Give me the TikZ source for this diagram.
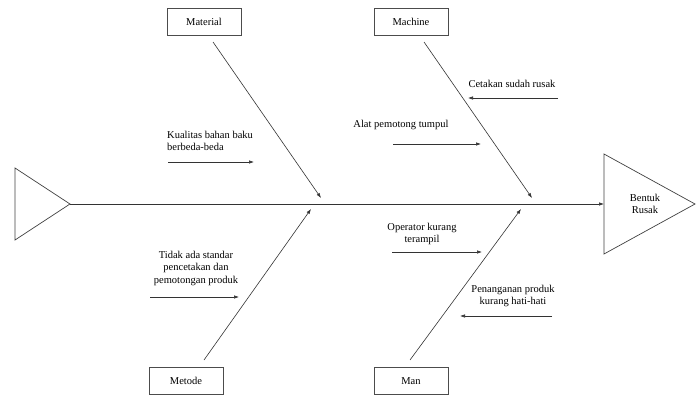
\documentclass[tikz,border=0pt]{standalone}
\usepackage{fontspec}
\setmainfont{Liberation Serif}
\usetikzlibrary{arrows.meta}

\tikzset{
  catbox/.style={draw=black!70, line width=0.8pt, minimum width=74pt, minimum height=27pt, inner sep=1pt},
  cause/.style={align=center, inner sep=0pt},
  bone/.style={draw=black!80, line width=0.6pt, -{Latex[length=5pt,width=3.5pt]}}
}

\begin{document}
\begin{tikzpicture}[x=1pt, y=-1pt, every node/.style={font=\fontsize{10.5}{12.5}\selectfont}]

\useasboundingbox (0,0) rectangle (696,396);

% tail and head
\draw [black!75, line width=0.7pt] (15,168) -- (70,204) -- (15,240) -- cycle;
\draw [black!75, line width=0.7pt] (604,154) -- (695,204) -- (604,254) -- cycle;
\coordinate (tail) at (70,204);
\coordinate (head) at (604,204);
\node [cause] (effect) at (645,204) {Bentuk\\Rusak};

% category boxes
\node [catbox] (mat) at (204,22) {Material};
\node [catbox] (mac) at (411,22) {Machine};
\node [catbox] (met) at (186,381) {Metode};
\node [catbox] (man) at (411,381) {Man};

% bone ends
\coordinate (mat0) at (213,42);
\coordinate (mat1) at (321,198);
\coordinate (mac0) at (424,42);
\coordinate (mac1) at (532,198);
\coordinate (met0) at (204,360);
\coordinate (met1) at (311,209);
\coordinate (man0) at (410,360);
\coordinate (man1) at (521,209);

% causes
\node [cause, align=left, anchor=west] (c1) at (167,141) {Kualitas bahan baku\\berbeda-beda};
\node [cause] (c2) at (401,125) {Alat pemotong tumpul};
\node [cause] (c3) at (512,84) {Cetakan sudah rusak};
\node [cause] (c4) at (422,234) {Operator kurang\\terampil};
\node [cause] (c5) at (196,268) {Tidak ada standar\\pencetakan dan\\pemotongan produk};
\node [cause] (c6) at (513,296) {Penanganan produk\\kurang hati-hati};

\coordinate (a1) at (168,162); \coordinate (b1) at (254,162);
\coordinate (a2) at (393,144); \coordinate (b2) at (481,144);
\coordinate (a3) at (558,98);  \coordinate (b3) at (468,98);
\coordinate (a4) at (392,252); \coordinate (b4) at (482,252);
\coordinate (a5) at (150,297); \coordinate (b5) at (239,297);
\coordinate (a6) at (552,316); \coordinate (b6) at (460,316);

\begin{scope}[bone]
\draw (tail) -- (head); %spine
\draw (mat0) -- (mat1); %material
\draw (mac0) -- (mac1); %machine
\draw (met0) -- (met1); %metode
\draw (man0) -- (man1); %man
\draw (a1) -- (b1); %c1
\draw (a2) -- (b2); %c2
\draw (a3) -- (b3); %c3
\draw (a4) -- (b4); %c4
\draw (a5) -- (b5); %c5
\draw (a6) -- (b6); %c6
\end{scope}

\end{tikzpicture}
\end{document}
